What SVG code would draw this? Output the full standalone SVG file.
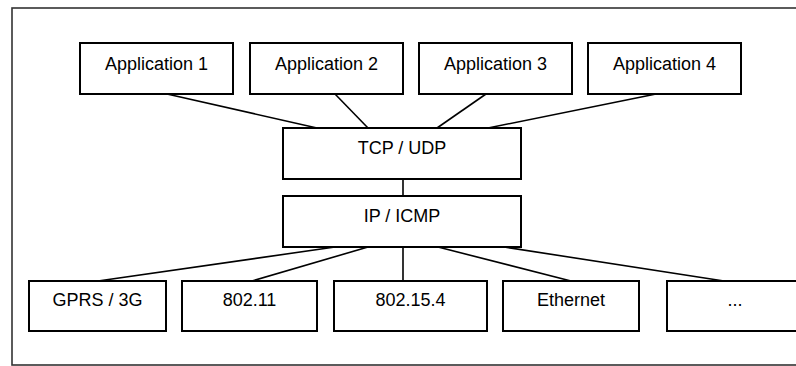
<svg xmlns="http://www.w3.org/2000/svg" width="796" height="366" viewBox="0 0 796 366">
<style>
.box{fill:#fff;stroke:#000;stroke-width:2}
.lbl{font-family:"Liberation Sans",Arial,sans-serif;font-size:18px;fill:#000;text-anchor:middle}
.conn line{stroke:#000;stroke-width:1.6}
</style>
<rect x="12" y="8" width="800" height="357" fill="#fff" stroke="#333" stroke-width="1.6"/>
<g class="conn" id="connectors">
<line x1="167" y1="94" x2="317" y2="128"/>
<line x1="335" y1="94" x2="368" y2="128"/>
<line x1="486" y1="94" x2="437" y2="128"/>
<line x1="656" y1="94" x2="488" y2="128"/>
<line x1="403" y1="179" x2="403" y2="196"/>
<line x1="335" y1="247" x2="98" y2="281"/>
<line x1="368" y1="247" x2="252" y2="281"/>
<line x1="403" y1="247" x2="403" y2="281"/>
<line x1="438" y1="247" x2="571" y2="281"/>
<line x1="504" y1="247" x2="724" y2="281"/>
</g>
<g id="app1"><rect class="box" x="80" y="43" width="153" height="51"/><text class="lbl" x="156.5" y="70">Application 1</text></g>
<g id="app2"><rect class="box" x="250" y="43" width="153" height="51"/><text class="lbl" x="326.5" y="70">Application 2</text></g>
<g id="app3"><rect class="box" x="419" y="43" width="153" height="51"/><text class="lbl" x="495.5" y="70">Application 3</text></g>
<g id="app4"><rect class="box" x="588" y="43" width="153" height="51"/><text class="lbl" x="664.5" y="70">Application 4</text></g>
<g id="tcp"><rect class="box" x="283" y="128" width="238" height="51"/><text class="lbl" x="402" y="153.5">TCP / UDP</text></g>
<g id="ip"><rect class="box" x="283" y="196" width="238" height="51"/><text class="lbl" x="402" y="221.5">IP / ICMP</text></g>
<g id="gprs"><rect class="box" x="29" y="281" width="137" height="50"/><text class="lbl" x="97.5" y="306">GPRS / 3G</text></g>
<g id="wifi"><rect class="box" x="182" y="281" width="135" height="50"/><text class="lbl" x="249.5" y="306">802.11</text></g>
<g id="zigbee"><rect class="box" x="334" y="281" width="153" height="50"/><text class="lbl" x="410.5" y="306">802.15.4</text></g>
<g id="ethernet"><rect class="box" x="503" y="281" width="136" height="50"/><text class="lbl" x="571" y="306">Ethernet</text></g>
<g id="more"><rect class="box" x="667" y="281" width="136" height="50"/><text class="lbl" x="735" y="306">...</text></g>
</svg>
